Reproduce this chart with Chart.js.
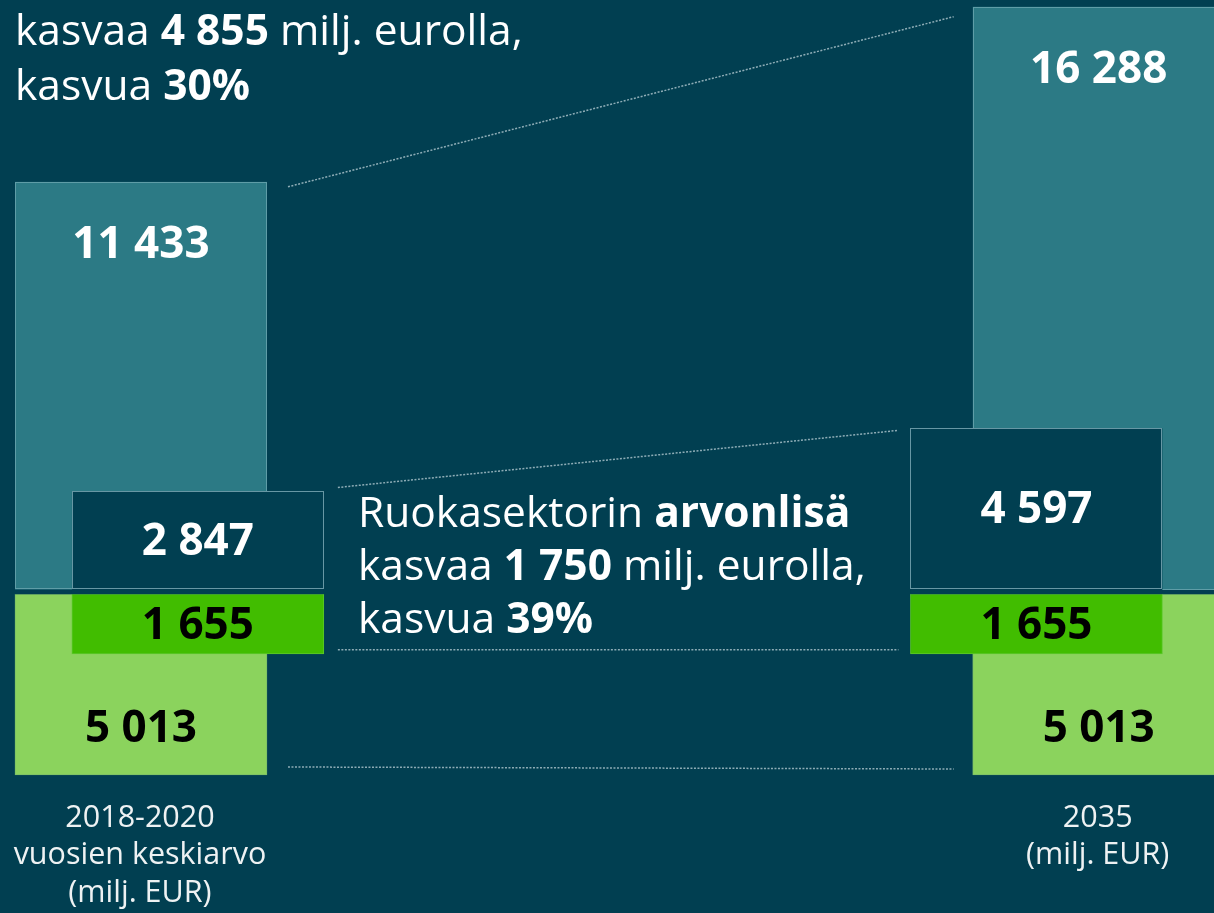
<!DOCTYPE html>
<html>
<head>
<meta charset="utf-8">
<script src="https://cdn.jsdelivr.net/npm/chart.js@4.4.0/dist/chart.umd.min.js"></script>
<style>
  html, body { margin: 0; padding: 0; background: #013f51; }
  #wrap { width: 1214px; height: 913px; position: relative; }
</style>
</head>
<body>
<div id="wrap"><canvas id="myChart"></canvas></div>
<script>
// periods, one line per row of the axis label
var periods = [['2018-2020', 'vuosien keskiarvo', '(milj. EUR)'], ['2035', '(milj. EUR)']];
// wide bars (milj. EUR)
var outerBase = [5013, 5013];
var outerTop = [11433, 16288];
// narrow bars (milj. EUR)
var innerBase = [1655, 1655];
var innerTop = [2847, 4597];

var BG = '#013f51';
var FONT = '"Open Sans", "Noto Sans", sans-serif';
var innerShift = [0.0594, -0.065]; // narrow bar sits a bit towards the middle
var GAP = 5;

function fmt(n) { return String(n).replace(/\B(?=(\d{3})+(?!\d))/g, ' '); }

var outerGreen = periods.map(function (p, i) { return { x: i, y: [0, outerBase[i]] }; });
var outerTeal = periods.map(function (p, i) { return { x: i, y: [outerBase[i], outerBase[i] + outerTop[i]] }; });
var innerGreen = periods.map(function (p, i) { return { x: i + innerShift[i], y: [outerBase[i] - innerBase[i], outerBase[i]] }; });
var innerDark = periods.map(function (p, i) { return { x: i + innerShift[i], y: [outerBase[i], outerBase[i] + innerTop[i]] }; });

// text boxes, runs of [text, bold]
var notes = [
  { x: 15, y: 45, step: 55, size: 42.5, lines: [
    [['kasvaa ', false], ['4 855', true], [' milj. eurolla,', false]],
    [['kasvua ', false], ['30%', true]]
  ]},
  { x: 358, y: 527, step: 53, size: 42.5, lines: [
    [['Ruokasektorin ', false], ['arvonlisä', true]],
    [['kasvaa ', false], ['1 750', true], [' milj. eurolla,', false]],
    [['kasvua ', false], ['39%', true]]
  ]}
];

function richLine(ctx, x, y, runs, size) {
  runs.forEach(function (r) {
    ctx.font = (r[1] ? 'bold ' : '') + size + 'px ' + FONT;
    ctx.fillText(r[0], x, y);
    x += ctx.measureText(r[0]).width;
  });
}

var extras = {
  id: 'extras',
  beforeDraw: function (chart) {
    var ctx = chart.ctx;
    ctx.save();
    ctx.fillStyle = BG;
    ctx.fillRect(0, 0, chart.width, chart.height);
    ctx.restore();
  },
  afterDatasetDraw: function (chart, args) {
    var ds = chart.data.datasets[args.index];
    if (!ds.outline) return;
    var ctx = chart.ctx;
    ctx.save();
    ctx.strokeStyle = ds.outline;
    ctx.lineWidth = 1;
    args.meta.data.forEach(function (bar) {
      var p = bar.getProps(['x', 'y', 'base', 'width'], true);
      ctx.strokeRect(Math.round(p.x - p.width / 2) + 0.5, Math.round(p.y) + 0.5,
        Math.round(p.width) - 1, Math.round(p.base - GAP - p.y) - 1);
    });
    ctx.restore();
  },
  afterDatasetsDraw: function (chart) {
    var ctx = chart.ctx;
    var bars = function (i) { return chart.getDatasetMeta(i).data; };
    // dataset indexes: 0 inner dark, 1 inner green, 2 outer teal, 3 outer green
    var edge = function (b, side) { var p = b.getProps(['x', 'width'], true); return p.x + side * p.width / 2; };

    // dotted connectors
    ctx.save();
    ctx.strokeStyle = 'rgba(190, 210, 216, 0.75)';
    ctx.lineWidth = 1.5;
    ctx.setLineDash([2, 1.5]);
    var links = [
      [bars(2)[0], bars(2)[1], 'y', 21, 5, 10],
      [bars(0)[0], bars(0)[1], 'y', 14, -4, 2],
      [bars(1)[0], bars(1)[1], 'base', 14, -4, -4],
      [bars(3)[0], bars(3)[1], 'base', 21, -8, -6]
    ];
    links.forEach(function (l) {
      var a = l[0].getProps(['y', 'base'], true), b = l[1].getProps(['y', 'base'], true);
      ctx.beginPath();
      ctx.moveTo(edge(l[0], 1) + l[3], a[l[2]] + l[4]);
      ctx.lineTo(edge(l[1], -1) - l[3] + 2, b[l[2]] + l[5]);
      ctx.stroke();
    });
    ctx.restore();

    // value labels
    ctx.save();
    ctx.textAlign = 'center';
    ctx.textBaseline = 'middle';
    ctx.font = 'bold 44px ' + FONT;
    chart.data.datasets.forEach(function (ds, di) {
      bars(di).forEach(function (bar, i) {
        var p = bar.getProps(['x', 'y', 'base'], true);
        var y;
        if (ds.labelPos === 'top') y = p.y + 62;
        else if (ds.labelPos === 'bottom') y = p.base - 48;
        else y = (p.y + p.base - (ds.outline ? GAP : 0)) / 2;
        ctx.fillStyle = ds.labelColor;
        ctx.fillText(fmt(ds.values[i]), p.x, y + 2);
      });
    });
    ctx.restore();

    // category labels under the wide bars
    ctx.save();
    ctx.textAlign = 'center';
    ctx.textBaseline = 'alphabetic';
    ctx.fillStyle = '#eef2f3';
    ctx.font = '30.5px ' + FONT;
    bars(3).forEach(function (bar, i) {
      var p = bar.getProps(['x', 'base'], true);
      periods[i].forEach(function (line, k) {
        ctx.fillText(line, p.x - 1, p.base + 52 + k * 37.5);
      });
    });
    ctx.restore();

    // text boxes
    ctx.save();
    ctx.fillStyle = '#ffffff';
    ctx.textAlign = 'left';
    ctx.textBaseline = 'alphabetic';
    notes.forEach(function (n) {
      n.lines.forEach(function (runs, k) { richLine(ctx, n.x, n.y + k * n.step, runs, n.size); });
    });
    ctx.restore();
  }
};

var ctx = document.getElementById('myChart').getContext('2d');
var myChart = new Chart(ctx, {
  type: 'bar',
  data: {
    datasets: [
      {
        data: innerDark, values: innerTop, order: 0,
        backgroundColor: BG, borderColor: BG,
        borderWidth: { top: 0, left: 0, right: 0, bottom: GAP }, borderSkipped: false,
        outline: '#6797a4', labelColor: '#ffffff', labelPos: 'center'
      },
      {
        data: innerGreen, values: innerBase, order: 0,
        backgroundColor: '#41bd00', borderColor: '#5cc92c',
        borderWidth: 1, borderSkipped: false,
        labelColor: '#000000', labelPos: 'center'
      },
      {
        data: outerTeal, values: outerTop, order: 1,
        backgroundColor: '#2c7a85', borderColor: BG,
        borderWidth: { top: 0, left: 0, right: 0, bottom: GAP }, borderSkipped: false,
        outline: '#5f9da7', labelColor: '#ffffff', labelPos: 'top'
      },
      {
        data: outerGreen, values: outerBase, order: 1,
        backgroundColor: '#8bd35d', borderColor: '#7dbf68',
        borderWidth: 1, borderSkipped: false,
        labelColor: '#000000', labelPos: 'bottom'
      }
    ]
  },
  options: {
    responsive: true,
    maintainAspectRatio: false,
    animation: false,
    layout: { padding: 0 },
    datasets: { bar: { grouped: false, barThickness: 252 } },
    plugins: {
      legend: { display: false },
      tooltip: { enabled: false }
    },
    scales: {
      x: { type: 'linear', display: false, offset: false, min: -0.1472, max: 1.1204 },
      y: { display: false, min: -3826, max: 21486 }
    }
  },
  plugins: [extras]
});
</script>
</body>
</html>
